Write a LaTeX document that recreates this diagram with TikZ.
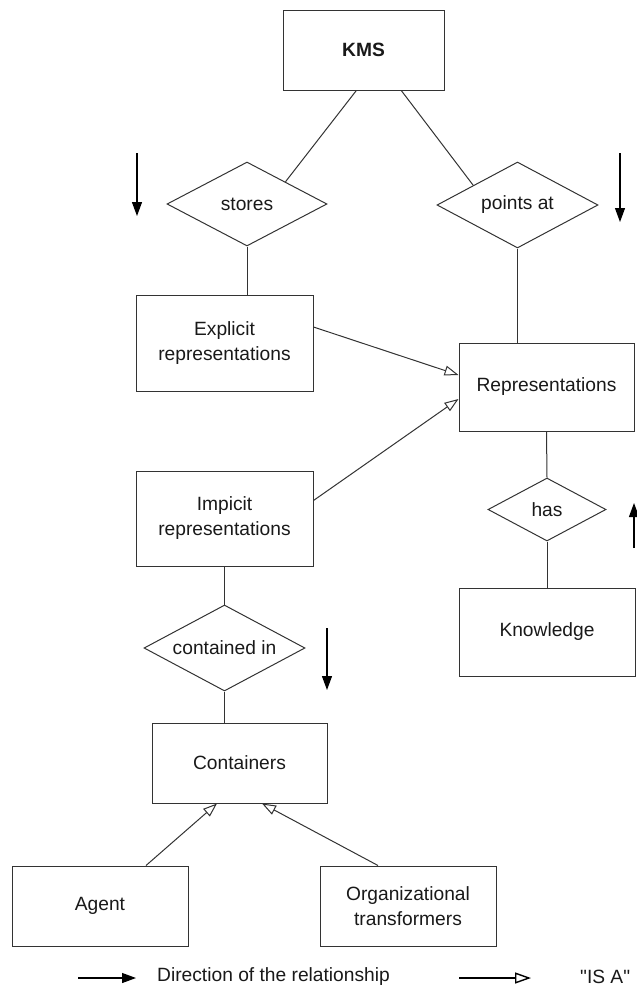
\documentclass[tikz,border=0pt]{standalone}
\usepackage{fontspec}
\setmainfont{Liberation Sans}
\usetikzlibrary{shapes.geometric,arrows.meta}
\begin{document}
\begin{tikzpicture}[x=1pt,y=-1pt,
  every node/.style={font=\fontsize{19.2}{25}\selectfont, text=black!90},
  entity/.style={draw=black!80, line width=1pt, rectangle, align=center,
    inner sep=0pt, minimum width=#1},
  rel/.style={draw=black!80, line width=1pt, diamond, aspect=1.9, inner sep=0pt},
  conn/.style={draw=black!80, line width=1pt},
  isa/.style={conn, -{Triangle[open, length=14pt, width=10pt]}},
  dirarrow/.style={draw=black, line width=1.1pt, -{Triangle[length=14pt, width=10pt]}},
  legtext/.style={anchor=west, inner sep=0pt}
]
\useasboundingbox (0,0) rectangle (637,988);

% entities
\node[entity=161, minimum height=80] (kms) at (363.5,50) {\bfseries KMS};
\node[entity=177, minimum height=96] (expl) at (224.5,343) {Explicit\\representations};
\node[entity=175, minimum height=88] (rep) at (546.5,387) {Representations};
\node[entity=177, minimum height=95] (impl) at (224.5,518.5) {Impicit\\representations};
\node[entity=176, minimum height=88] (know) at (547,632) {Knowledge};
\node[entity=175, minimum height=80] (cont) at (239.5,763) {Containers};
\node[entity=176, minimum height=80] (agent) at (100,906) {Agent};
\node[entity=176, minimum height=80] (org) at (408,906) {Organizational\\transformers};

% relationships
\node[rel, minimum width=160, minimum height=84] (stores) at (247,204) {stores};
\node[rel, minimum width=161, minimum height=86] (pts) at (517.5,205) {points at};
\node[rel, minimum width=118, minimum height=63] (has) at (547,509.5) {has};
\node[rel, minimum width=161, minimum height=86] (contin) at (224.5,648) {contained in};

% connectors
\draw[conn] (kms.260.8) -- (stores.30);
\draw[conn] (kms.313.2) -- (pts.156);
\draw[conn] (stores.south) -- (stores.south |- expl.north);
\draw[conn] (pts.south) -- (pts.south |- rep.north);
\draw[conn] (rep.south) -- (has.north);
\draw[conn] (has.south) -- (know.north);
\draw[conn] (impl.south) -- (contin.north);
\draw[conn] (contin.south) -- (contin.south |- cont.north);

% IS A
\draw[isa] ([yshift=16pt]expl.east) -- ([yshift=12pt]rep.west);
\draw[isa] ([yshift=18pt]impl.east) -- ([yshift=-12pt]rep.west);
\draw[isa] ([xshift=46pt]agent.north) -- ([xshift=-22.5pt]cont.south);
\draw[isa] ([xshift=-30pt]org.north) -- ([xshift=22.5pt]cont.south);

% direction arrows
\coordinate (d1s) at (137,153); \coordinate (d1e) at (137,216);
\coordinate (d2s) at (620,153); \coordinate (d2e) at (620,222);
\coordinate (d3s) at (634,548); \coordinate (d3e) at (634,503);
\coordinate (d4s) at (327,628); \coordinate (d4e) at (327,690);
\draw[dirarrow] (d1s) -- (d1e);
\draw[dirarrow] (d2s) -- (d2e);
\draw[dirarrow] (d3s) -- (d3e);
\draw[dirarrow] (d4s) -- (d4e);

% legend
\coordinate (l1s) at (78,978); \coordinate (l1e) at (136,978);
\coordinate (l2s) at (459,978); \coordinate (l2e) at (531,978);
\draw[dirarrow] (l1s) -- (l1e);
\node[legtext] (l1t) at (157,977) {Direction of the relationship};
\draw[draw=black, line width=1.4pt, -{Triangle[open, length=16pt, width=11pt]}] (l2s) -- (l2e);
\node[legtext] (l2t) at (580,977) {\textquotedbl IS A\textquotedbl};
\end{tikzpicture}
\end{document}
